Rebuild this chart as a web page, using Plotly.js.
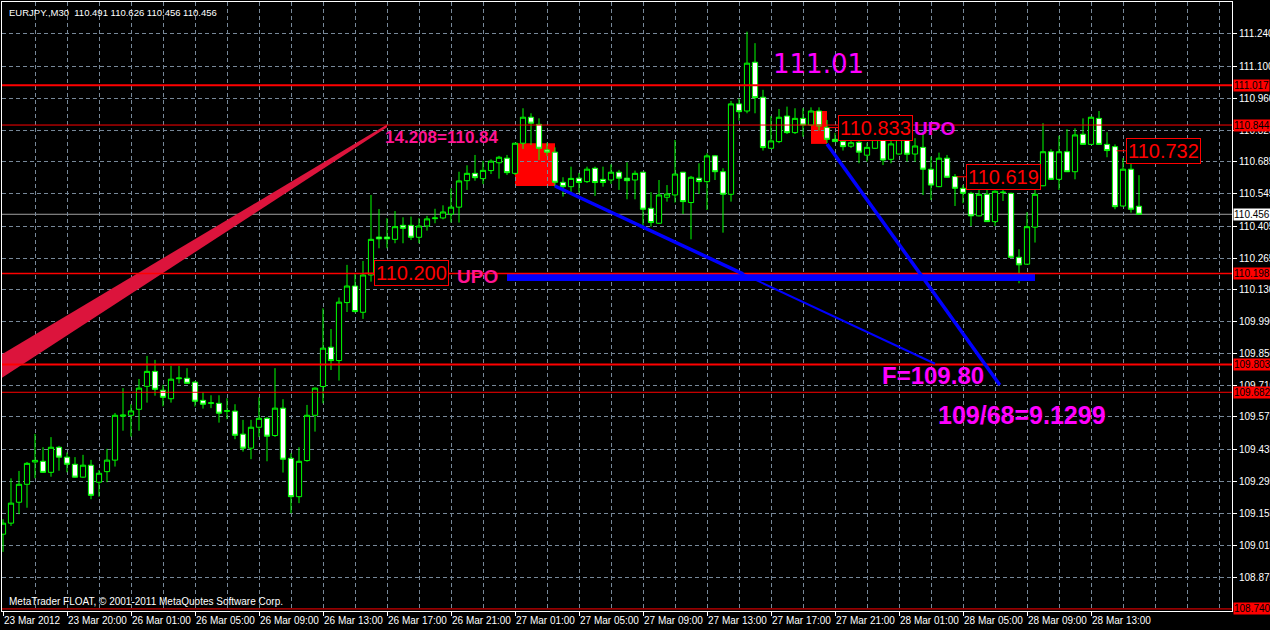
<!DOCTYPE html>
<html><head><meta charset="utf-8">
<script src="https://cdn.plot.ly/plotly-3.0.1.min.js"></script>
<style>html,body{margin:0;padding:0;background:#000;}#chart{width:1270px;height:630px;}</style>
</head><body><div id="chart"></div>
<script>
// EURJPY M30 bars (index 0 = 23 Mar 2012)
const openP = [109.065,109.113,109.204,109.282,109.379,109.382,109.334,109.443,109.400,109.369,
109.313,109.365,109.291,109.337,109.387,109.578,109.582,109.608,109.708,109.773,
109.691,109.654,109.741,109.743,109.726,109.647,109.634,109.634,109.599,109.600,
109.500,109.439,109.530,109.569,109.494,109.613,109.395,109.228,109.385,109.582,
109.707,109.878,109.820,110.072,110.144,110.030,110.192,110.357,110.357,110.347,
110.408,110.408,110.356,110.405,110.437,110.440,110.457,110.487,110.602,110.634,
110.611,110.646,110.680,110.700,110.634,110.765,110.878,110.847,110.736,110.726,
110.595,110.576,110.613,110.598,110.656,110.608,110.605,110.639,110.613,110.605,
110.639,110.482,110.417,110.530,110.540,110.639,110.507,110.613,110.598,110.710,
110.641,110.543,110.936,110.905,111.117,110.965,110.743,110.772,110.883,110.811,
110.873,110.844,110.905,110.834,110.782,110.772,110.752,110.769,110.713,110.743,
110.804,110.695,110.718,110.787,110.718,110.747,110.652,110.576,110.700,110.620,
110.569,110.547,110.449,110.543,110.424,110.550,110.547,110.269,110.239,110.400,
110.580,110.728,110.608,110.728,110.641,110.804,110.760,110.873,110.760,110.750,
110.492,110.652,110.491];
const highP = [109.130,109.308,109.340,109.379,109.501,109.443,109.487,109.449,109.420,109.400,
109.410,109.388,109.344,109.436,109.592,109.700,109.630,109.740,109.840,109.823,
109.714,109.797,109.797,109.787,109.731,109.682,109.669,109.669,109.656,109.630,
109.562,109.562,109.660,109.574,109.787,109.652,109.417,109.443,109.627,109.703,
110.047,109.957,110.094,110.236,110.200,110.253,110.540,110.479,110.439,110.470,
110.443,110.446,110.439,110.449,110.480,110.495,110.569,110.641,110.669,110.714,
110.688,110.695,110.710,110.714,110.766,110.917,110.895,110.873,110.767,110.747,
110.617,110.663,110.636,110.663,110.663,110.663,110.673,110.649,110.682,110.646,
110.640,110.552,110.605,110.583,110.779,110.640,110.623,110.678,110.721,110.714,
110.656,110.949,110.960,111.250,111.200,110.997,110.883,110.914,110.924,110.917,
110.917,110.921,110.921,110.866,110.810,110.793,110.808,110.808,110.767,110.813,
110.830,110.779,110.830,110.797,110.787,110.810,110.707,110.724,110.714,110.631,
110.583,110.554,110.579,110.591,110.560,110.601,110.550,110.304,110.465,110.562,
110.852,110.739,110.797,110.826,110.830,110.873,110.880,110.905,110.813,110.760,
110.700,110.772,110.626];
const lowP = [108.988,109.101,109.152,109.180,109.308,109.331,109.315,109.341,109.334,109.310,
109.310,109.217,109.228,109.291,109.359,109.515,109.489,109.515,109.637,109.667,
109.621,109.637,109.720,109.718,109.620,109.611,109.613,109.550,109.565,109.478,
109.424,109.391,109.487,109.382,109.488,109.333,109.156,109.200,109.380,109.511,
109.634,109.779,109.733,110.031,110.029,110.001,110.163,110.308,110.308,110.330,
110.330,110.344,110.330,110.385,110.417,110.434,110.420,110.420,110.562,110.602,
110.587,110.631,110.611,110.627,110.627,110.740,110.757,110.692,110.710,110.576,
110.533,110.547,110.550,110.592,110.536,110.576,110.588,110.562,110.521,110.521,
110.402,110.402,110.414,110.511,110.507,110.457,110.347,110.544,110.475,110.605,
110.376,110.511,110.863,110.895,110.895,110.733,110.740,110.765,110.805,110.805,
110.793,110.841,110.820,110.766,110.770,110.733,110.744,110.678,110.685,110.740,
110.670,110.678,110.716,110.685,110.684,110.540,110.518,110.574,110.614,110.492,
110.504,110.405,110.447,110.423,110.405,110.514,110.268,110.156,110.237,110.333,
110.578,110.607,110.562,110.640,110.608,110.759,110.759,110.759,110.704,110.478,
110.490,110.463,110.456];
const closeP = [109.113,109.200,109.282,109.373,109.386,109.334,109.443,109.400,109.369,109.313,
109.365,109.234,109.330,109.387,109.582,109.583,109.601,109.700,109.773,109.695,
109.660,109.739,109.744,109.721,109.643,109.630,109.636,109.591,109.602,109.495,
109.439,109.530,109.569,109.491,109.613,109.391,109.228,109.382,109.582,109.700,
109.874,109.820,110.074,110.144,110.033,110.192,110.347,110.349,110.349,110.402,
110.395,110.356,110.405,110.436,110.440,110.466,110.487,110.601,110.634,110.615,
110.647,110.687,110.704,110.637,110.765,110.878,110.852,110.743,110.726,110.595,
110.576,110.612,110.594,110.652,110.594,110.594,110.639,110.613,110.602,110.634,
110.478,110.420,110.540,110.544,110.631,110.511,110.617,110.598,110.710,110.641,
110.543,110.936,110.902,111.113,110.963,110.746,110.775,110.878,110.811,110.873,
110.844,110.905,110.840,110.782,110.772,110.750,110.767,110.726,110.747,110.797,
110.692,110.762,110.811,110.717,110.753,110.652,110.583,110.700,110.617,110.569,
110.547,110.449,110.543,110.424,110.556,110.552,110.269,110.236,110.402,110.543,
110.728,110.608,110.728,110.641,110.801,110.760,110.878,110.760,110.733,110.489,
110.652,110.478,110.456];

const timeLabels = ["23 Mar 2012","23 Mar 20:00","26 Mar 01:00","26 Mar 05:00","26 Mar 09:00",
"26 Mar 13:00","26 Mar 17:00","26 Mar 21:00","27 Mar 01:00","27 Mar 05:00","27 Mar 09:00",
"27 Mar 13:00","27 Mar 17:00","27 Mar 21:00","28 Mar 01:00","28 Mar 05:00","28 Mar 09:00","28 Mar 13:00"];
const priceTicks = [111.240,111.100,110.960,110.820,110.685,110.545,110.405,110.265,110.130,
109.990,109.850,109.710,109.575,109.435,109.295,109.155,109.015,108.875];
const levelLines = [111.017,110.844,110.198,109.803,109.682,108.740];
const levelWidths = [2,1,1.5,2,1,1];
const bidPrice = 110.456;
const boxLabels = [110.200,110.833,110.619,110.732];
const boxBars = [46.4,104.4,120.4,140.4];
const rect1 = {bars:[64,69], prices:[110.579,110.765]};
const rect2 = {bars:[101,103], prices:[110.762,110.905]};
const blueBand = {bars:[63,129], prices:[110.166,110.196]};
const trend1 = {bars:[69,116.5], prices:[110.579,109.806]};
const trend1a = {bars:[69,92.5], prices:[110.579,110.197]};
const trend2 = {bars:[103,124.6], prices:[110.762,109.714]};
const channel = {bars:[-0.2,48], lower:[109.744,110.834], upper:[109.846,110.846]};

const n = openP.length;
const barIdx = openP.map((_, i) => i);
const tickPos = timeLabels.map((_, k) => k * 8);

const trace = {
  type: 'candlestick', x: barIdx, open: openP, high: highP, low: lowP, close: closeP,
  increasing: {line: {color: '#00ff00', width: 1}, fillcolor: '#000000'},
  decreasing: {line: {color: '#00ff00', width: 1}, fillcolor: '#ffffff'},
  whiskerwidth: 0, hoverinfo: 'skip', showlegend: false
};

const shapes = [];
shapes.push({type:'rect', layer:'below', xref:'x', yref:'y', x0:rect1.bars[0], x1:rect1.bars[1], y0:rect1.prices[0], y1:rect1.prices[1], fillcolor:'#ff0000', line:{width:0}});
shapes.push({type:'rect', layer:'below', xref:'x', yref:'y', x0:rect2.bars[0], x1:rect2.bars[1], y0:rect2.prices[0], y1:rect2.prices[1], fillcolor:'#ff0000', line:{width:0}});
shapes.push({type:'rect', layer:'above', xref:'x', yref:'y', x0:blueBand.bars[0], x1:blueBand.bars[1], y0:blueBand.prices[0], y1:blueBand.prices[1], fillcolor:'#0000ff', line:{width:0}});
shapes.push({type:'path', layer:'above', xref:'x', yref:'y',
  path:`M ${channel.bars[0]},${channel.upper[0]} L ${channel.bars[1]},${channel.upper[1]} L ${channel.bars[1]},${channel.lower[1]} L ${channel.bars[0]},${channel.lower[0]} Z`,
  fillcolor:'#dc143c', line:{width:0}});
levelLines.forEach((v, i) => shapes.push({type:'line', layer:'above', xref:'paper', yref:'y', x0:0, x1:1, y0:v, y1:v, line:{color:'#ff0000', width:levelWidths[i]}}));
shapes.push({type:'line', layer:'below', xref:'paper', yref:'y', x0:0, x1:1, y0:bidPrice, y1:bidPrice, line:{color:'#a0a0a0', width:1}});
shapes.push({type:'line', layer:'above', xref:'x', yref:'y', x0:trend1.bars[0], x1:trend1.bars[1], y0:trend1.prices[0], y1:trend1.prices[1], line:{color:'#0000ff', width:2}});
shapes.push({type:'line', layer:'above', xref:'x', yref:'y', x0:trend1a.bars[0], x1:trend1a.bars[1], y0:trend1a.prices[0], y1:trend1a.prices[1], line:{color:'#0000ff', width:3.5}});
shapes.push({type:'line', layer:'above', xref:'x', yref:'y', x0:trend2.bars[0], x1:trend2.bars[1], y0:trend2.prices[0], y1:trend2.prices[1], line:{color:'#0000ff', width:3.5}});
boxBars.forEach((b, i) => shapes.push({type:'line', layer:'above', xref:'x', yref:'y', x0:b-1.2, x1:b, y0:boxLabels[i], y1:boxLabels[i], line:{color:'#ff0000', width:1}}));

const ann = [];
const txtFont = 'Liberation Sans, Arial, sans-serif';
ann.push({xref:'paper', yref:'paper', x:5/1230, y:1, yshift:-3, xanchor:'left', yanchor:'top', showarrow:false,
  text:'EURJPY.,M30&nbsp;&nbsp;' + [openP[n-1], highP[n-1], lowP[n-1], closeP[n-1]].map(v => v.toFixed(3)).join(' '),
  font:{family:txtFont, size:9.5, color:'#ffffff'}});
ann.push({xref:'paper', yref:'paper', x:5/1230, y:0, yshift:2, xanchor:'left', yanchor:'bottom', showarrow:false,
  text:'MetaTrader FLOAT, © 2001-2011 MetaQuotes Software Corp.', font:{family:txtFont, size:10, color:'#ffffff'}});
levelLines.forEach(v => ann.push({xref:'paper', yref:'y', x:1, xshift:1, y:v, xanchor:'left', yanchor:'middle', showarrow:false,
  text:v.toFixed(3), bgcolor:'#ff0000', borderpad:0, font:{family:txtFont, size:10, color:'#000000'}}));
ann.push({xref:'paper', yref:'y', x:1, xshift:1, y:bidPrice, xanchor:'left', yanchor:'middle', showarrow:false,
  text:bidPrice.toFixed(3), bgcolor:'#ffffff', borderpad:0, font:{family:txtFont, size:10, color:'#000000'}});
boxLabels.forEach((v, i) => ann.push({xref:'x', yref:'y', x:boxBars[i], y:v, xanchor:'left', yanchor:'middle', showarrow:false,
  text:v.toFixed(3), bgcolor:'#000000', bordercolor:'#ff0000', borderwidth:1, borderpad:1,
  font:{family:txtFont, size:20, color:'#ff0000'}}));
ann.push({xref:'x', yref:'y', x:96, y:111.110, xanchor:'left', yanchor:'middle', showarrow:false, text:'111.01',
  font:{family:'DejaVu Sans, sans-serif', size:26, color:'#ff00ff'}});
ann.push({xref:'x', yref:'y', x:47.5, y:110.790, xanchor:'left', yanchor:'middle', showarrow:false, text:'14.208=110.84',
  font:{family:txtFont, size:17, color:'#ff1493', weight:'bold'}});
ann.push({xref:'x', yref:'y', x:56.5, y:110.186, xanchor:'left', yanchor:'middle', showarrow:false, text:'UPO',
  font:{family:txtFont, size:19, color:'#ff1493', weight:'bold'}});
ann.push({xref:'x', yref:'y', x:113.6, y:110.831, xanchor:'left', yanchor:'middle', showarrow:false, text:'UPO',
  font:{family:txtFont, size:19, color:'#ee00ee', weight:'bold'}});
ann.push({xref:'x', yref:'y', x:109.6, y:109.753, xanchor:'left', yanchor:'middle', showarrow:false, text:'F=109.80',
  font:{family:txtFont, size:24, color:'#ff00ff', weight:'bold'}});
ann.push({xref:'x', yref:'y', x:116.6, y:109.585, xanchor:'left', yanchor:'middle', showarrow:false, text:'109/68=9.1299',
  font:{family:txtFont, size:25, color:'#ff00ff', weight:'bold'}});

const layout = {
  width:1270, height:630, margin:{l:2, r:38, t:2, b:19},
  paper_bgcolor:'#000000', plot_bgcolor:'#000000', showlegend:false, dragmode:false,
  boxgap:0.35, boxgroupgap:0,
  xaxis:{type:'linear', range:[-0.125, 153.625], rangeslider:{visible:false}, fixedrange:true,
    tickmode:'array', tickvals:tickPos, ticktext:timeLabels, ticklabelposition:'outside right', tickangle:0,
    ticks:'outside', ticklen:4, tickcolor:'#ffffff', tickfont:{family:txtFont, size:10, color:'#ffffff'},
    showline:true, linecolor:'#ffffff', linewidth:1, mirror:true, zeroline:false,
    showgrid:true, gridcolor:'#778899', griddash:'4px,3px', gridwidth:1,
    minor:{tickmode:'linear', tick0:0, dtick:4, showgrid:true, gridcolor:'#778899', griddash:'4px,3px', gridwidth:1, ticklen:0}},
  yaxis:{side:'right', range:[108.731, 111.379], fixedrange:true,
    tickmode:'array', tickvals:priceTicks, ticktext:priceTicks.map(v => v.toFixed(3)),
    ticks:'outside', ticklen:4, tickcolor:'#ffffff', tickfont:{family:txtFont, size:10, color:'#ffffff'},
    showline:true, linecolor:'#ffffff', linewidth:1, mirror:true, zeroline:false,
    showgrid:true, gridcolor:'#778899', griddash:'4px,3px', gridwidth:1},
  shapes:shapes, annotations:ann
};
Plotly.newPlot('chart', [trace], layout, {displayModeBar:false, staticPlot:true});
</script></body></html>
